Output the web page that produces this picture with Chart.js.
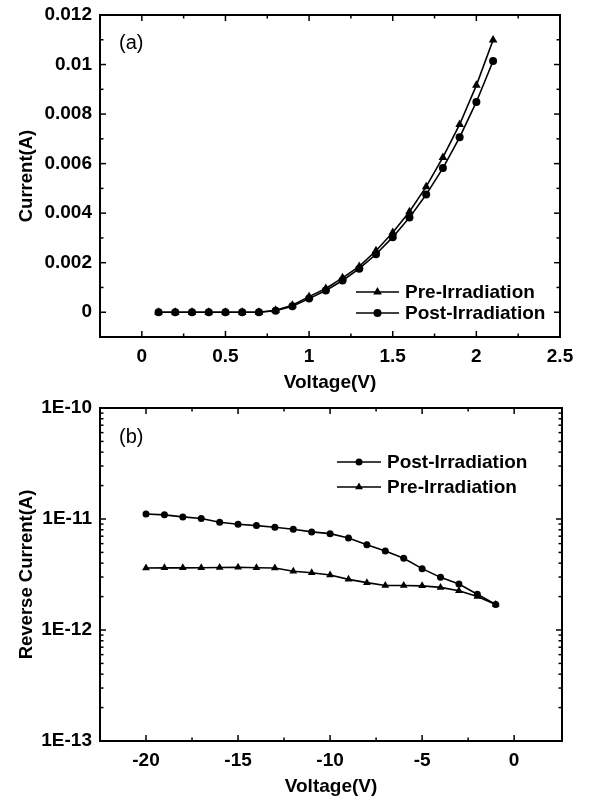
<!DOCTYPE html>
<html>
<head>
<meta charset="utf-8">
<script src="https://cdn.jsdelivr.net/npm/chart.js@4.4.1/dist/chart.umd.min.js"></script>
<style>
  html, body { margin: 0; padding: 0; background: #fff; }
  #wrap { position: relative; width: 589px; height: 798px; }
  canvas { position: absolute; left: 0; }
</style>
</head>
<body>
<div id="wrap">
  <canvas id="chartA" width="589" height="398" style="top:0"></canvas>
  <canvas id="chartB" width="589" height="400" style="top:398px"></canvas>
</div>
<script>
// (a) forward I-V
const fwdVoltage = [0.1, 0.2, 0.3, 0.4, 0.5, 0.6, 0.7, 0.8, 0.9, 1.0, 1.1, 1.2, 1.3, 1.4, 1.5, 1.6, 1.7, 1.8, 1.9, 2.0, 2.1];
const fwdPre = [0, 0, 0, 0, 0, 0, 0, 0.00008, 0.00028, 0.00063, 0.00096, 0.00139, 0.00185, 0.00248, 0.00322, 0.00406, 0.00507, 0.00625, 0.00758, 0.00916, 0.01099];
const fwdPost = [0, 0, 0, 0, 0, 0, 0, 0.00006, 0.00024, 0.00055, 0.00088, 0.00128, 0.00176, 0.00234, 0.00303, 0.00382, 0.00475, 0.00582, 0.00706, 0.00849, 0.01014];
const fwdXTicks = [0, 0.5, 1, 1.5, 2, 2.5];
const fwdYTicks = [0, 0.002, 0.004, 0.006, 0.008, 0.01, 0.012];
const fwdYTickLabels = ['0', '0.002', '0.004', '0.006', '0.008', '0.01', '0.012'];

// (b) reverse leakage
const revVoltage = [-20, -19, -18, -17, -16, -15, -14, -13, -12, -11, -10, -9, -8, -7, -6, -5, -4, -3, -2, -1];
const revPost = [1.11e-11, 1.09e-11, 1.045e-11, 1.01e-11, 9.35e-12, 8.97e-12, 8.72e-12, 8.43e-12, 8.09e-12, 7.65e-12, 7.38e-12, 6.75e-12, 5.87e-12, 5.15e-12, 4.43e-12, 3.57e-12, 2.98e-12, 2.6e-12, 2.1e-12, 1.7e-12];
const revPre = [3.62e-12, 3.63e-12, 3.63e-12, 3.64e-12, 3.66e-12, 3.67e-12, 3.64e-12, 3.62e-12, 3.38e-12, 3.28e-12, 3.13e-12, 2.86e-12, 2.67e-12, 2.52e-12, 2.52e-12, 2.5e-12, 2.42e-12, 2.26e-12, 2.0e-12, 1.7e-12];
const revXTicks = [-20, -15, -10, -5, 0];
const revYTicks = [1e-13, 1e-12, 1e-11, 1e-10];
const revYTickLabels = ['1E-13', '1E-12', '1E-11', '1E-10'];

Chart.defaults.font.family = '"Liberation Sans", Arial, sans-serif';
Chart.defaults.color = '#000';

const FONT_TICK = { size: 19, weight: 'bold' };
const FONT_YTITLE = { size: 18.5, weight: 'bold' };

function marker(ctx, style, x, y, r) {
  ctx.beginPath();
  if (style === 'triangle') {
    ctx.moveTo(x, y - r);
    ctx.lineTo(x + Math.sin(2 * Math.PI / 3) * r, y + r / 2);
    ctx.lineTo(x - Math.sin(2 * Math.PI / 3) * r, y + r / 2);
    ctx.closePath();
  } else {
    ctx.arc(x, y, r, 0, Math.PI * 2);
  }
  ctx.fill();
}

// the plot box is placed by layout.padding only, not by label overhang
function fixBox(size, horizontal) {
  return s => {
    if (horizontal) s.height = size; else s.width = size;
    s.paddingTop = 0; s.paddingBottom = 0; s.paddingLeft = 0; s.paddingRight = 0;
  };
}

// box frame, inward ticks on all sides, panel letter and legend
const framePlugin = {
  id: 'frame',
  afterDraw(chart, args, opts) {
    const { ctx, chartArea: a, scales } = chart;
    const xs = scales.x, ys = scales.y;
    ctx.save();
    ctx.strokeStyle = '#000';
    ctx.fillStyle = '#000';
    ctx.lineWidth = 1.5;
    const seg = (x1, y1, x2, y2) => { ctx.beginPath(); ctx.moveTo(x1, y1); ctx.lineTo(x2, y2); ctx.stroke(); };
    const tickX = (v, len) => {
      const p = xs.getPixelForValue(v);
      if (p <= a.left + 1 || p >= a.right - 1) return;
      seg(p, a.bottom, p, a.bottom - len);
      seg(p, a.top, p, a.top + len);
    };
    const tickY = (v, len) => {
      const p = ys.getPixelForValue(v);
      if (p <= a.top + 1 || p >= a.bottom - 1) return;
      seg(a.left, p, a.left + len, p);
      seg(a.right, p, a.right - len, p);
    };
    xs.ticks.forEach(t => tickX(t.value, 6));
    ys.ticks.forEach(t => tickY(t.value, 6));
    (opts.xMinor || []).forEach(v => tickX(v, 3.5));
    (opts.yMinor || []).forEach(v => tickY(v, 3.5));

    ctx.lineWidth = 2;
    ctx.strokeRect(a.left, a.top, a.right - a.left, a.bottom - a.top);

    ctx.font = '20px "Liberation Sans", Arial, sans-serif';
    ctx.textBaseline = 'middle';
    ctx.textAlign = 'left';
    ctx.fillText(opts.label, opts.labelX, opts.labelY);

    const lg = opts.legend;
    ctx.font = 'bold 19px "Liberation Sans", Arial, sans-serif';
    ctx.lineWidth = 1.5;
    lg.items.forEach((it, i) => {
      const y = lg.y + i * lg.gap;
      seg(lg.x, y, lg.x + lg.len, y);
      marker(ctx, it.style, lg.x + lg.len / 2, y, it.style === 'triangle' ? lg.r + 1 : lg.r);
      ctx.fillText(it.text, lg.x + lg.len + 6, y + 1);
    });
    ctx.restore();
  }
};

function series(label, xsArr, ysArr, style, r) {
  return {
    label,
    data: xsArr.map((x, i) => ({ x, y: ysArr[i] })),
    borderColor: '#000',
    backgroundColor: '#000',
    borderWidth: 1.6,
    pointStyle: style,
    pointRadius: style === 'triangle' ? r + 1 : r,
    pointBorderWidth: 0,
    tension: 0
  };
}

const fwdXMinor = [-0.25, 0.25, 0.75, 1.25, 1.75, 2.25];
const fwdYMinor = [-0.001, 0.001, 0.003, 0.005, 0.007, 0.009, 0.011];

new Chart(document.getElementById('chartA'), {
  type: 'line',
  data: {
    datasets: [
      series('Pre-Irradiation', fwdVoltage, fwdPre, 'triangle', 4),
      series('Post-Irradiation', fwdVoltage, fwdPost, 'circle', 4)
    ]
  },
  options: {
    responsive: false,
    devicePixelRatio: 1,
    animation: false,
    layout: { padding: { top: 15, right: 29, left: 0, bottom: 0 } },
    plugins: {
      legend: { display: false },
      tooltip: { enabled: false },
      frame: {
        xMinor: fwdXMinor, yMinor: fwdYMinor,
        label: '(a)', labelX: 119, labelY: 43,
        legend: { x: 356, y: 292, gap: 21, len: 43, r: 4,
          items: [{ text: 'Pre-Irradiation', style: 'triangle' }, { text: 'Post-Irradiation', style: 'circle' }] }
      }
    },
    scales: {
      x: {
        type: 'linear', min: -0.25, max: 2.5,
        afterBuildTicks: s => { s.ticks = fwdXTicks.map(v => ({ value: v })); },
        afterFit: fixBox(61, true),
        grid: { display: false, drawTicks: false },
        border: { display: false },
        ticks: { font: FONT_TICK, padding: 8, maxRotation: 0, callback: v => String(v) },
        title: { display: true, text: 'Voltage(V)', font: FONT_TICK, padding: { top: 0, bottom: 4 } }
      },
      y: {
        type: 'linear', min: -0.001, max: 0.012,
        afterBuildTicks: s => { s.ticks = fwdYTicks.map(v => ({ value: v })); },
        afterFit: fixBox(100, false),
        grid: { display: false, drawTicks: false },
        border: { display: false },
        ticks: { font: FONT_TICK, padding: 8, callback: (v, i) => fwdYTickLabels[i] },
        title: { display: true, text: 'Current(A)', font: FONT_YTITLE, padding: { top: 16, bottom: 0 } }
      }
    }
  },
  plugins: [framePlugin]
});

const revXMinor = [-17.5, -12.5, -7.5, -2.5];
const revYMinor = [];
[-13, -12, -11].forEach(d => { for (let m = 2; m <= 9; m++) revYMinor.push(m * Math.pow(10, d)); });

new Chart(document.getElementById('chartB'), {
  type: 'line',
  data: {
    datasets: [
      series('Post-Irradiation', revVoltage, revPost, 'circle', 3.5),
      series('Pre-Irradiation', revVoltage, revPre, 'triangle', 3.5)
    ]
  },
  options: {
    responsive: false,
    devicePixelRatio: 1,
    animation: false,
    layout: { padding: { top: 10, right: 27, left: 0, bottom: 0 } },
    plugins: {
      legend: { display: false },
      tooltip: { enabled: false },
      frame: {
        xMinor: revXMinor, yMinor: revYMinor,
        label: '(b)', labelX: 119, labelY: 39,
        legend: { x: 337, y: 64, gap: 25, len: 44, r: 3.5,
          items: [{ text: 'Post-Irradiation', style: 'circle' }, { text: 'Pre-Irradiation', style: 'triangle' }] }
      }
    },
    scales: {
      x: {
        type: 'linear', min: -22.5, max: 2.6,
        afterBuildTicks: s => { s.ticks = revXTicks.map(v => ({ value: v })); },
        afterFit: fixBox(57, true),
        grid: { display: false, drawTicks: false },
        border: { display: false },
        ticks: { font: FONT_TICK, padding: 8, maxRotation: 0, callback: v => String(v) },
        title: { display: true, text: 'Voltage(V)', font: FONT_TICK, padding: { top: 0, bottom: 0 } }
      },
      y: {
        type: 'logarithmic', min: 1e-13, max: 1e-10,
        afterBuildTicks: s => { s.ticks = revYTicks.map(v => ({ value: v })); },
        afterFit: fixBox(100, false),
        grid: { display: false, drawTicks: false },
        border: { display: false },
        ticks: { font: FONT_TICK, padding: 8, callback: (v, i) => revYTickLabels[i] },
        title: { display: true, text: 'Reverse Current(A)', font: FONT_YTITLE, padding: { top: 16, bottom: 0 } }
      }
    }
  },
  plugins: [framePlugin]
});
</script>
</body>
</html>
